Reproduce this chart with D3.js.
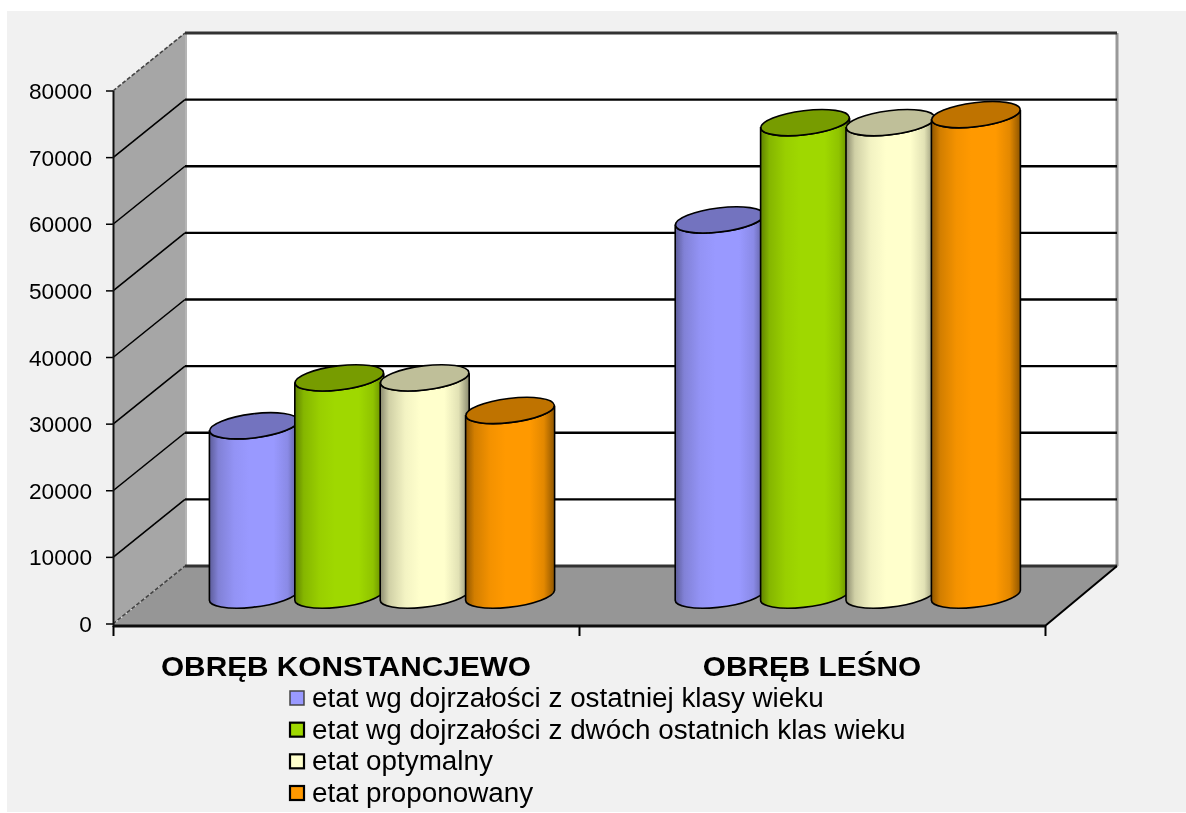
<!DOCTYPE html>
<html><head><meta charset="utf-8">
<script src="https://cdn.jsdelivr.net/npm/d3@7/dist/d3.min.js"></script>
<style>html,body{margin:0;padding:0;background:#fff}svg{display:block}text{font-family:"Liberation Sans",Arial,sans-serif;fill:#000}</style>
</head><body><svg id="c" width="1186" height="813"></svg>
<script>
const groups = ["OBRĘB KONSTANCJEWO", "OBRĘB LEŚNO"];
const seriesNames = ["etat wg dojrzałości z ostatniej klasy wieku","etat wg dojrzałości z dwóch ostatnich klas wieku","etat optymalny","etat proponowany"];
const konstancjewo = [25400, 32600, 32600, 27700];
const lesno = [56300, 70900, 70900, 72100];
const rowsValues = [konstancjewo, lesno];
const yTicks = [0,10000,20000,30000,40000,50000,60000,70000,80000];
const baseColors = ["#9999ff","#9fd800","#ffffcc","#ff9900"];
const topColors = ["#7373bf","#779c00","#bfbf99","#bf7300"];
const edgeColors = ["#5c5c99","#5f8200","#8a8a6e","#8f5600"];

const svg = d3.select("#c");
const defs = svg.append("defs");
defs.append("filter").attr("id","soft")
  .attr("filterUnits","userSpaceOnUse").attr("x",0).attr("y",0).attr("width",1186).attr("height",813)
  .append("feGaussianBlur").attr("stdDeviation",0.45);
const root = svg.append("g").attr("filter","url(#soft)");
root.append("rect").attr("x",7).attr("y",11).attr("width",1179).attr("height",801).attr("fill","#f1f1f1");

const dx = 72, dy = -58;
const y = d3.scaleLinear().domain([0,80000]).range([624,91]);

baseColors.forEach((c,i)=>{
  const g = defs.append("linearGradient").attr("id","g"+i);
  const mix = d3.interpolateRgb(edgeColors[i],c);
  [[0,edgeColors[i]],[.1,mix(.6)],[.28,mix(.9)],[.45,c],[.72,c],[.88,mix(.75)],[1,edgeColors[i]]]
    .forEach(s=>g.append("stop").attr("offset",s[0]).attr("stop-color",s[1]));
});

// floor
root.append("path").attr("d",d3.line()([[113,y(0)+1],[113+dx,y(0)+dy],[1045+dx,y(0)+dy],[1045,y(0)+2]])+"Z").attr("fill","#969696");
// back wall
root.append("rect").attr("x",113+dx).attr("y",y(80000)+dy).attr("width",932).attr("height",y(0)-y(80000)).attr("fill","#fff");
// side wall
root.append("path").attr("d",d3.line()([[113,y(0)],[113+dx,y(0)+dy],[113+dx,y(80000)+dy],[113,y(80000)]])+"Z").attr("fill","#a6a6a6");
root.append("line").attr("x1",186).attr("x2",186).attr("y1",y(80000)+dy).attr("y2",y(0)+dy).attr("stroke","#b4b4b4").attr("stroke-width",2);
root.append("line").attr("x1",1117).attr("x2",1117).attr("y1",y(80000)+dy).attr("y2",y(0)+dy).attr("stroke","#999").attr("stroke-width",3);

// grid
yTicks.forEach(t=>{
  const edge = t===0||t===80000;
  root.append("path").attr("d",d3.line()([[113,y(t)],[113+dx,y(t)+dy]]))
    .attr("fill","none").attr("stroke",edge?"#444":"#000").attr("stroke-width",1.6).attr("stroke-dasharray",edge?"4 2":null);
  root.append("path").attr("d",d3.line()([[113+dx,y(t)+dy],[1045+dx,y(t)+dy]]))
    .attr("fill","none").attr("stroke",edge?"#333":"#000").attr("stroke-width",edge?3:2.4);
  root.append("line").attr("x1",106).attr("x2",113).attr("y1",y(t)).attr("y2",y(t)).attr("stroke","#000").attr("stroke-width",1.5);
});
function stretch(sel, f){
  sel.each(function(){
    const L = this.getComputedTextLength();
    d3.select(this).attr("textLength",L*f).attr("lengthAdjust","spacingAndGlyphs");
  });
}
const yt = root.selectAll("text.yt").data(yTicks).join("text").attr("class","yt")
  .attr("x",92).attr("y",d=>y(d)+8).attr("text-anchor","end").attr("font-size",22).text(d=>d);
stretch(yt,1.03);

// axes
root.append("line").attr("x1",113.5).attr("x2",113.5).attr("y1",y(80000)).attr("y2",y(0)+3).attr("stroke","#111").attr("stroke-width",2);
root.append("line").attr("x1",113).attr("x2",1045).attr("y1",y(0)+2).attr("y2",y(0)+2).attr("stroke","#111").attr("stroke-width",3);
root.append("line").attr("x1",1045).attr("x2",1045+dx).attr("y1",y(0)+2).attr("y2",y(0)+dy).attr("stroke","#000").attr("stroke-width",2);
[113,579,1045].forEach(x=>root.append("line").attr("x1",x+.5).attr("x2",x+.5).attr("y1",y(0)+2).attr("y2",y(0)+12).attr("stroke","#000").attr("stroke-width",2));

// cylinders
const rx = 44.5, ry = 12, rot = -7;
const xS = d3.scaleBand().domain(d3.range(4)).range([209,209+85.4*4]);
const groupShift = [2.2, 468];
const tiltY = 4.6;
rowsValues.forEach((vals,gi)=>{
  vals.forEach((v,i)=>{
    const cx = xS(i)+xS.bandwidth()/2+groupShift[gi];
    const yt = y(v) + dy/2, yb = y(0) + dy/2;
    const l = cx-rx, r = cx+rx;
    const arc = `A${rx} ${ry} ${rot} 0 0`;
    root.append("path").attr("d",`M${l} ${yt+tiltY}L${l} ${yb+tiltY}${arc} ${r} ${yb-tiltY}L${r} ${yt-tiltY}${arc.replace(" 0 0"," 0 1")} ${l} ${yt+tiltY}Z`)
      .attr("fill",`url(#g${i})`).attr("stroke","#000").attr("stroke-width",1.6);
    root.append("ellipse").attr("rx",rx).attr("ry",ry).attr("transform",`translate(${cx},${yt}) rotate(${rot})`)
      .attr("fill",topColors[i]).attr("stroke","#000").attr("stroke-width",1.6);
  });
});

// category labels
const cats = root.selectAll("text.cat").data(groups).join("text").attr("class","cat")
  .attr("x",d=>d===groups[0]?346:812).attr("y",676).attr("text-anchor","middle")
  .attr("font-weight","bold").attr("font-size",28.5).text(d=>d);
stretch(cats,1.045);

// legend
const legY = d3.scalePoint().domain(seriesNames).range([698,793]);
seriesNames.forEach((n,i)=>{
  root.append("rect").attr("x",290).attr("y",legY(n)-7).attr("width",14).attr("height",14).attr("fill",baseColors[i]).attr("stroke",i===0?"#444":"#000").attr("stroke-width",i===0?1.5:2.2);
  const t = root.append("text").attr("x",312).attr("y",legY(n)+9).attr("font-size",27).text(n);
  stretch(t,1.03);
});
</script></body></html>
